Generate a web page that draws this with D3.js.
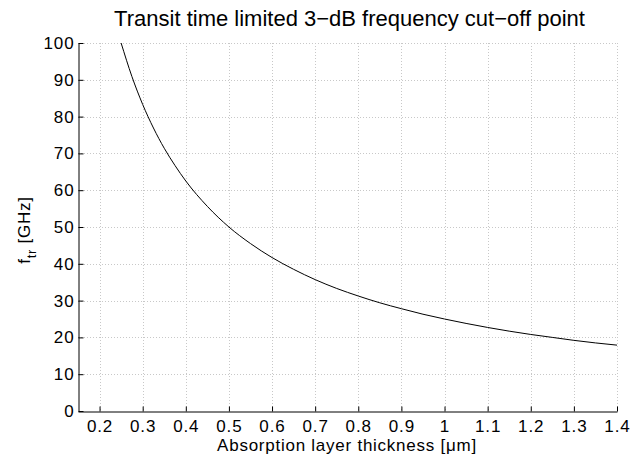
<!DOCTYPE html>
<html><head><meta charset="utf-8">
<script src="https://cdn.jsdelivr.net/npm/d3@7"></script>
<style>body{margin:0;background:#fff}svg{display:block}text{font-family:"Liberation Sans",Arial,sans-serif}</style>
</head><body>
<script>
const thickness = [0.25,0.275,0.3,0.325,0.35,0.375,0.4,0.45,0.5,0.55,0.6,0.65,0.7,0.75,0.8,0.85,0.9,0.95,1.0,1.05,1.1,1.15,1.2,1.25,1.3,1.35,1.4];
const fTr = [100,90.9,83.3,76.9,71.4,66.7,62.5,55.6,50,45.5,41.7,38.5,35.7,33.3,31.25,29.4,27.8,26.3,25,23.8,22.7,21.7,20.8,20,19.2,18.5,17.9];
const xTicks = [0.2,0.3,0.4,0.5,0.6,0.7,0.8,0.9,1,1.1,1.2,1.3,1.4];
const yTicks = [0,10,20,30,40,50,60,70,80,90,100];
const title = "Transit time limited 3\u2212dB frequency cut\u2212off point";
const xLabel = "Absorption layer thickness [\u03bcm]";

const W=632,H=460,L=78,R=617,T=43,B=411;
const svg=d3.select("body").append("svg").attr("width",W).attr("height",H);
const x=d3.scaleLinear().domain([0.15,1.4]).range([L,R]);
const y=d3.scaleLinear().domain([0,100]).range([B,T]);

const grid=svg.append("g").attr("stroke","#c8c8c8").attr("stroke-width",1).attr("stroke-dasharray","1,2");
grid.selectAll(".gx").data(xTicks).join("line").attr("x1",d=>Math.round(x(d))+0.5).attr("x2",d=>Math.round(x(d))+0.5).attr("y1",T).attr("y2",B);
grid.selectAll(".gy").data(yTicks.filter(d=>d>0)).join("line").attr("y1",d=>Math.round(y(d))+0.5).attr("y2",d=>Math.round(y(d))+0.5).attr("x1",L).attr("x2",R);

const xa=svg.append("g").attr("transform",`translate(0,${B+0.5})`)
  .call(d3.axisBottom(x).tickValues(xTicks).tickSize(-5).tickPadding(8).tickFormat(d=>String(d)).tickSizeOuter(0));
xa.select(".domain").attr("stroke","#000");
xa.selectAll("text").attr("font-size",17).attr("letter-spacing","0.9px").attr("fill","#000");
const ya=svg.append("g").attr("transform",`translate(${L+0.5},0)`)
  .call(d3.axisLeft(y).tickValues(yTicks).tickSize(-5).tickPadding(4).tickFormat(d=>String(d)).tickSizeOuter(0));
ya.select(".domain").attr("stroke","#000");
ya.selectAll("text").attr("font-size",17).attr("letter-spacing","0.9px").attr("fill","#000");

svg.append("path").datum(thickness.map((t,i)=>[t,fTr[i]]))
  .attr("fill","none").attr("stroke","#000").attr("stroke-width",1)
  .attr("d",d3.line().x(d=>x(d[0])).y(d=>y(d[1])).curve(d3.curveMonotoneX));

svg.append("text").attr("x",349.5).attr("y",26).attr("text-anchor","middle").attr("font-size",22).text(title);
svg.append("text").attr("x",347).attr("y",451).attr("text-anchor","middle").attr("font-size",17).attr("letter-spacing","0.75px").text(xLabel);
const yl=svg.append("text").attr("transform",`translate(30,230) rotate(-90)`).attr("text-anchor","middle").attr("font-size",17).attr("letter-spacing","0.75px");
yl.append("tspan").text("f");
yl.append("tspan").attr("dy",6).attr("font-size",13).text("tr");
yl.append("tspan").attr("dy",-6).text(" [GHz]");
</script>
</body></html>
